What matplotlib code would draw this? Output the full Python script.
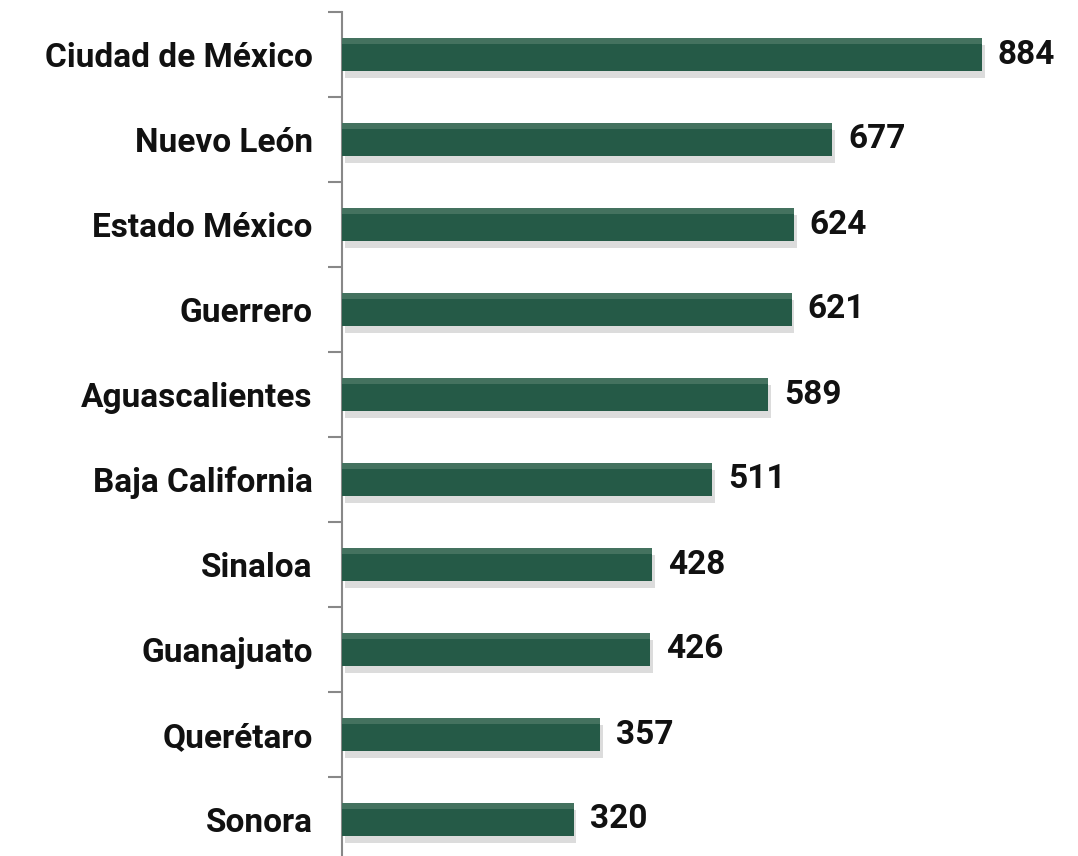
import matplotlib
matplotlib.use("Agg")
import matplotlib.pyplot as plt
import matplotlib.patheffects as pe

states = ["Ciudad de México", "Nuevo León", "Estado México", "Guerrero",
          "Aguascalientes", "Baja California", "Sinaloa", "Guanajuato",
          "Querétaro", "Sonora"]
values = [884, 677, 624, 621, 589, 511, 428, 426, 357, 320]

W, H = 1078, 856
fig = plt.figure(figsize=(W / 100, H / 100), dpi=100)
left = 342 / W
right = 1078 / W
top = 1 - 12 / H
bottom = 1 - 862 / H
ax = fig.add_axes([left, bottom, right - left, top - bottom])

font = ["Roboto", "DejaVu Sans"]
ypos = list(range(len(states)))
bars = ax.barh(ypos, values, height=0.38, color="#255a47", edgecolor="none", zorder=3)
for b in bars:
    b.set_path_effects([pe.SimplePatchShadow(offset=(2, -5), shadow_rgbFace="#777777", alpha=0.25),
                        pe.Normal()])
    x0, y0 = b.get_x(), b.get_y()
    w, h = b.get_width(), b.get_height()
    ax.barh(y0 + h * 0.08, w, height=h * 0.16, left=x0, color="#44725f",
            edgecolor="none", zorder=4, align="center")

for y, v in zip(ypos, values):
    ax.text(v + 22, y, str(v), va="center", ha="left", fontsize=24,
            fontweight="bold", family=font, color="#111111")

ax.set_ylim(len(states) - 0.5, -0.5)
ax.set_xlim(0, (W - 342) / 0.724)
ax.set_yticks(ypos)
ax.set_yticklabels(states, fontsize=24, fontweight="bold", family=font, color="#111111")
ax.tick_params(axis="y", which="major", length=0, pad=21)
ax.set_yticks([i - 0.5 for i in range(len(states) + 1)], minor=True)
ax.tick_params(axis="y", which="minor", length=10, width=1.5, color="#888888", direction="out")
ax.set_xticks([])
for s in ["top", "right", "bottom"]:
    ax.spines[s].set_visible(False)
ax.spines["left"].set_color("#888888")
ax.spines["left"].set_linewidth(1.5)

fig.savefig("out.png", dpi=100)
